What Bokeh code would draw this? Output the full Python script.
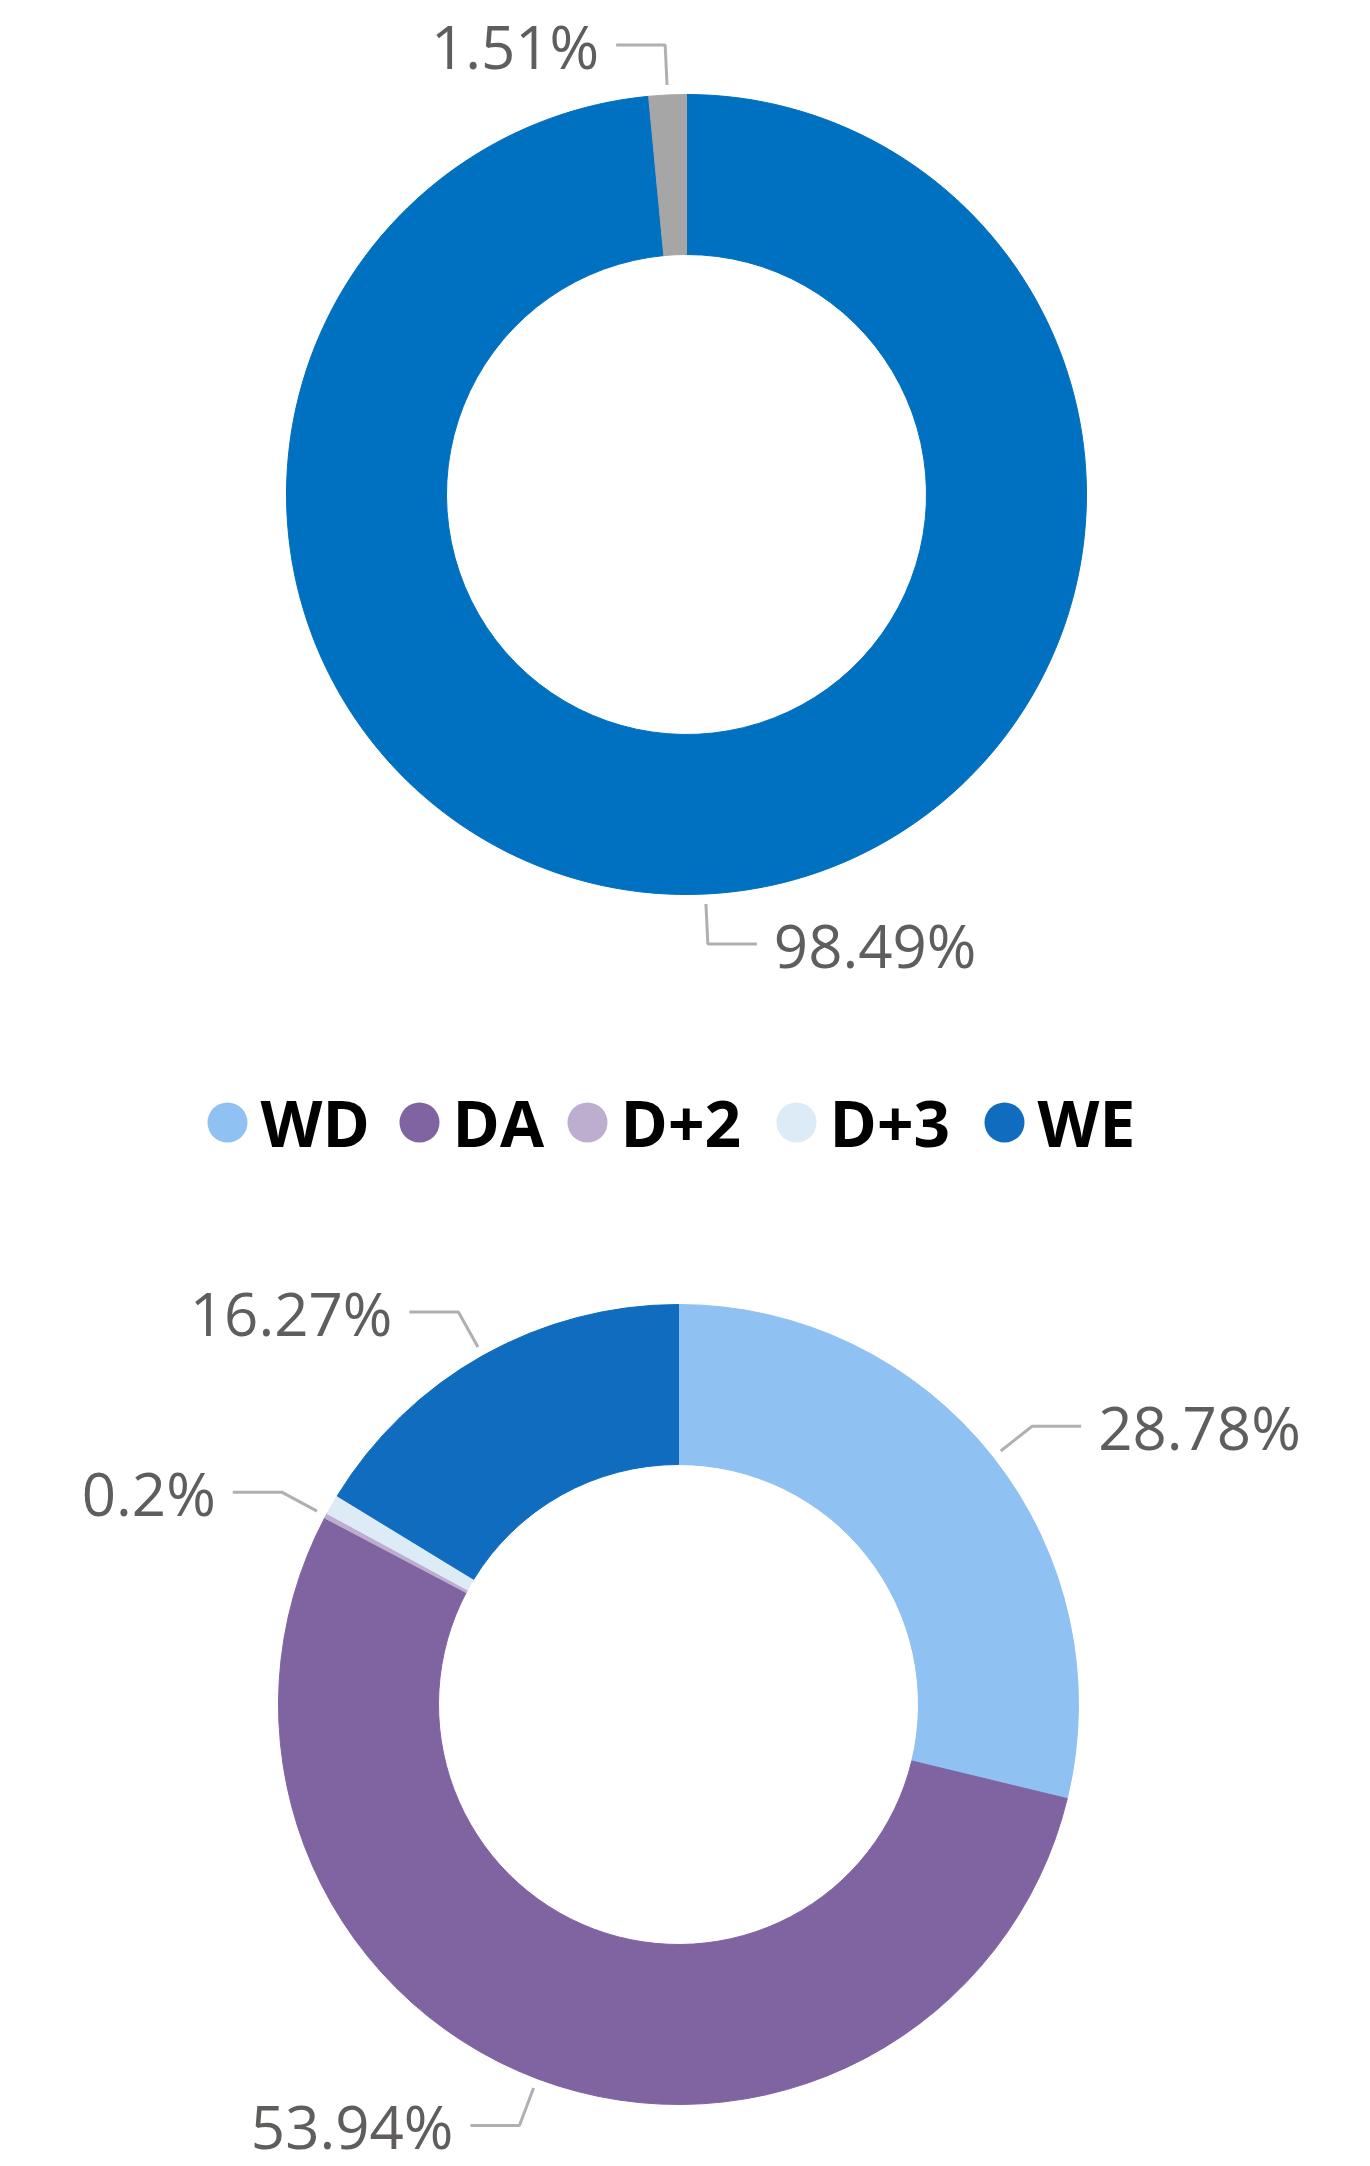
import math
from bokeh.plotting import figure
from bokeh.models import Range1d, ColumnDataSource
from bokeh.core.properties import value
from bokeh.embed import file_html
from bokeh.resources import INLINE

# ---------------- data ----------------
top_categories = ["Main", "Other"]
top_values = [98.49, 1.51]
top_colors = ["#0070C0", "#A6A6A6"]
top_show_label = [True, True]

bottom_categories = ["WD", "DA", "D+2", "D+3", "WE"]
bottom_values = [28.78, 53.94, 0.2, 0.81, 16.27]
bottom_colors = ["#8FC1F3", "#8064A2", "#BDAED0", "#DDEBF7", "#0F6CBF"]
bottom_show_label = [True, True, True, False, True]

# ---------------- layout ----------------
W, H = 1370, 2166


def sx(x):
    return x


def sy(y):
    return H - y


TOP_CENTER = (sx(686), sy(494))
BOTTOM_CENTER = (sx(678), sy(1704))
R_IN, R_OUT = 240, 400
LEAD_R1, LEAD_R2, LEAD_H, TEXT_GAP, BASE_DROP = 410, 450, 49, 17, 1
LABEL_FONT = "Open Sans"
LABEL_SIZE = "60px"
LABEL_COLOR = "#605E5C"
LEADER_COLOR = "#B0B0B0"

LEGEND_X = [227, 419, 587, 796, 1004]
LEGEND_Y = 1122
LEGEND_TEXT_DX = 33
LEGEND_BASE_Y = 1122

p = figure(width=W, height=H, x_range=Range1d(0, W), y_range=Range1d(0, H),
           output_backend="svg", toolbar_location=None, min_border=0)
p.axis.visible = False
p.grid.visible = False
p.outline_line_color = None
p.background_fill_color = "white"
p.border_fill_color = "white"


def donut(center, values, colors, show):
    cx, cy = center
    total = float(sum(values))
    cum = 0.0
    starts, ends, mids = [], [], []
    for v in values:
        c0 = cum / total
        c1 = (cum + v) / total
        cum += v
        starts.append(math.pi / 2 - 2 * math.pi * c1)
        ends.append(math.pi / 2 - 2 * math.pi * c0)
        mids.append(math.pi / 2 - math.pi * (c0 + c1))
    src = ColumnDataSource(dict(start=starts, end=ends, color=colors))
    p.annular_wedge(x=cx, y=cy, inner_radius=R_IN, outer_radius=R_OUT,
                    start_angle="start", end_angle="end", direction="anticlock",
                    fill_color="color", line_color="color", line_width=1,
                    source=src)
    xs, ys, tx, ty, tt, ta = [], [], [], [], [], []
    for v, m, s in zip(values, mids, show):
        if not s:
            continue
        c, sn = math.cos(m), math.sin(m)
        x1, y1 = cx + LEAD_R1 * c, cy + LEAD_R1 * sn
        x2, y2 = cx + LEAD_R2 * c, cy + LEAD_R2 * sn
        sign = 1 if c >= 0 else -1
        x3 = x2 + sign * LEAD_H
        xs.append([x1, x2, x3])
        ys.append([y1, y2, y2])
        tx.append(x3 + sign * TEXT_GAP)
        ty.append(y2 - BASE_DROP)
        tt.append(f"{v:g}%")
        ta.append("left" if sign > 0 else "right")
    p.multi_line(xs=xs, ys=ys, line_color=LEADER_COLOR, line_width=3)
    lsrc = ColumnDataSource(dict(x=tx, y=ty, text=tt, align=ta))
    p.text(x="x", y="y", text="text", text_align="align",
           text_baseline="alphabetic", text_font=value(LABEL_FONT),
           text_font_size=LABEL_SIZE, text_color=LABEL_COLOR, source=lsrc)


donut(TOP_CENTER, top_values, top_colors, top_show_label)
donut(BOTTOM_CENTER, bottom_values, bottom_colors, bottom_show_label)

# legend
leg = ColumnDataSource(dict(
    x=[sx(x) for x in LEGEND_X],
    y=[sy(LEGEND_Y)] * len(LEGEND_X),
    tx=[sx(x + LEGEND_TEXT_DX) for x in LEGEND_X],
    ty=[sy(LEGEND_BASE_Y)] * len(LEGEND_X),
    color=bottom_colors,
    name=bottom_categories,
))
p.scatter(x="x", y="y", size=40, marker="circle", fill_color="color",
          line_color=None, source=leg)
p.text(x="tx", y="ty", text="name", text_align="left",
       text_baseline="alphabetic", text_font=value(LABEL_FONT),
       text_font_style="bold", text_font_size="64px", text_color="#000000",
       source=leg)

open("out.html", "w").write(file_html(p, INLINE))
